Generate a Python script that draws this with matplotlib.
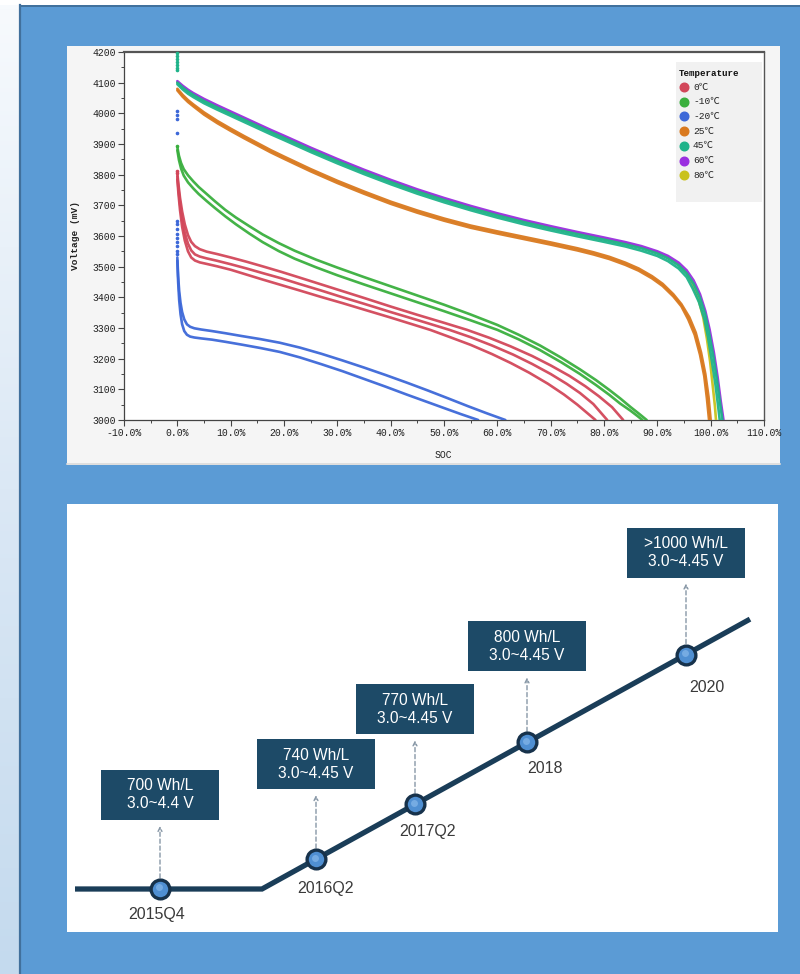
import numpy as np
import matplotlib
matplotlib.use("Agg")
import matplotlib.pyplot as plt
from matplotlib.patches import Rectangle
from matplotlib.colors import LinearSegmentedColormap
from matplotlib.ticker import MultipleLocator, FuncFormatter

# ---------------- discharge curves: SOC (%) vs voltage (mV) ----------------
# 0 C (three cells)
red_a_soc = [0, 0.2, 0.5, 0.9, 1.4, 2, 2.6, 3.3, 4.2, 5.5, 7.5, 10, 13, 16, 19.5, 23, 27, 31, 35, 40,
             45, 50, 54.3, 58.5, 62.5, 66.5, 70, 73.5, 76.5, 79, 81.5, 83.6]
red_a_v = [3805, 3770, 3725, 3680, 3638, 3603, 3581, 3567, 3557, 3549, 3541, 3530, 3516, 3501, 3483, 3464, 3442, 3420, 3398, 3370,
           3343, 3317, 3294, 3268, 3240, 3209, 3178, 3144, 3110, 3078, 3042, 3000]
red_b_soc = [0, 0.2, 0.5, 0.9, 1.4, 2, 2.6, 3.3, 4.2, 5.5, 7.5, 10, 13, 16, 19.5, 23, 27, 31, 35, 40,
             45, 51, 55, 59, 63, 66.5, 70, 73, 75.5, 78, 80.6]
red_b_v = [3795, 3755, 3705, 3655, 3610, 3575, 3553, 3540, 3533, 3527, 3519, 3508, 3494, 3479, 3462, 3443, 3422, 3400, 3379, 3352,
           3326, 3294, 3270, 3243, 3213, 3183, 3150, 3118, 3088, 3052, 3000]
red_c_soc = [0, 0.2, 0.5, 0.9, 1.4, 2, 2.6, 3.3, 4.2, 5.5, 7.5, 10, 13, 16, 19.5, 23, 27, 31, 35, 40,
             47.4, 51, 55, 59, 62.5, 66, 69.5, 72.5, 75, 78.4]
red_c_v = [3785, 3740, 3685, 3630, 3585, 3550, 3530, 3520, 3514, 3509, 3501, 3490, 3474, 3458, 3440, 3422, 3401, 3381, 3360, 3334,
           3294, 3271, 3245, 3215, 3186, 3154, 3118, 3083, 3050, 3000]

# -10 C (two cells)
green_a_soc = [0, 0.3, 0.7, 1.2, 2, 3, 4, 5.5, 7, 9, 11, 13.5, 16, 19, 22, 26, 30, 35, 40, 45,
               50, 55, 60, 64, 68, 72, 75.5, 78.5, 81, 83, 85, 86.6, 88]
green_a_v = [3890, 3862, 3838, 3818, 3798, 3778, 3760, 3737, 3714, 3685, 3660, 3632, 3605, 3577, 3552, 3523, 3497, 3466, 3436, 3406,
             3376, 3344, 3310, 3278, 3243, 3203, 3165, 3130, 3098, 3071, 3042, 3020, 3000]
green_b_soc = [0, 0.3, 0.7, 1.2, 2, 3, 4, 5.5, 7, 9, 11, 13.5, 16, 19, 22, 26, 30, 35, 40, 45,
               50, 55, 60, 64, 68, 72, 75.5, 78.5, 81, 83, 85, 86.2, 87.2]
green_b_v = [3880, 3848, 3820, 3797, 3775, 3755, 3737, 3714, 3692, 3664, 3638, 3608, 3580, 3551, 3526, 3498, 3472, 3442, 3413, 3384,
             3355, 3325, 3294, 3263, 3228, 3188, 3150, 3114, 3082, 3054, 3030, 3014, 3000]

# -20 C (two cells)
blue_a_soc = [0, 0.15, 0.35, 0.6, 0.9, 1.3, 1.8, 2.4, 3.2, 4.5, 6.5, 9, 12, 15.5, 19.2, 23, 27, 31, 35, 39,
              43, 47, 51, 54.5, 58, 61.5]
blue_a_v = [3530, 3470, 3420, 3382, 3352, 3328, 3312, 3304, 3299, 3295, 3290, 3283, 3274, 3264, 3252, 3236, 3216, 3194, 3171, 3147,
            3122, 3096, 3069, 3045, 3022, 3000]
blue_b_soc = [0, 0.15, 0.35, 0.6, 0.9, 1.3, 1.8, 2.4, 3.2, 4.5, 6.5, 9, 12, 15.5, 19.2, 23, 27, 31, 35, 39,
              43, 46.5, 50, 53.2, 56.4]
blue_b_v = [3520, 3450, 3390, 3345, 3312, 3290, 3278, 3272, 3269, 3266, 3262, 3255, 3246, 3235, 3222, 3204, 3182, 3159, 3134, 3109,
            3083, 3061, 3039, 3019, 3000]

# 25 C (two cells)
orange_a_soc = [0, 1, 2, 3, 5, 7.5, 10, 12.5, 15, 17.5, 20, 25, 30, 35, 40, 45, 50, 55, 60, 65,
                70, 75, 78, 81, 84, 86.5, 89, 91, 93, 94.5, 96, 97.2, 98.2, 99, 99.6, 100.0]
orange_a_v = [4080, 4060, 4043, 4029, 4003, 3975, 3950, 3926, 3903, 3880, 3859, 3818, 3780, 3745, 3712, 3683, 3657, 3634, 3615, 3597,
              3579, 3560, 3547, 3532, 3513, 3494, 3469, 3444, 3410, 3378, 3335, 3285, 3220, 3150, 3075, 3000]
orange_b_soc = [0, 1, 2, 3, 5, 7.5, 10, 12.5, 15, 17.5, 20, 25, 30, 35, 40, 45, 50, 55, 60, 65,
                70, 75, 78, 81, 84, 86.5, 89, 91, 93, 94.5, 95.8, 97.0, 98.0, 98.8, 99.3, 99.7]
orange_b_v = [4075, 4054, 4037, 4023, 3996, 3968, 3943, 3919, 3896, 3873, 3852, 3811, 3773, 3738, 3705, 3676, 3650, 3627, 3608, 3590,
              3572, 3553, 3540, 3525, 3506, 3487, 3462, 3437, 3403, 3371, 3328, 3278, 3213, 3143, 3070, 3000]

# 45 C (two cells)
teal_a_soc = [0, 1, 2, 3, 5, 7.5, 10, 12.5, 15, 17.5, 20, 25, 30, 35, 40, 45, 50, 55, 60, 65,
              70, 75, 80, 84, 87, 90, 92, 94, 95.5, 96.8, 98, 99, 99.7, 100.5, 101.2, 101.8, 102.2]
teal_a_v = [4100, 4084, 4071, 4060, 4040, 4019, 3999, 3979, 3959, 3939, 3920, 3881, 3844, 3809, 3776, 3745, 3717, 3691, 3667, 3645,
            3625, 3606, 3588, 3573, 3560, 3543, 3527, 3504, 3478, 3444, 3398, 3343, 3283, 3208, 3128, 3050, 3000]
teal_b_soc = [0, 1, 2, 3, 5, 7.5, 10, 12.5, 15, 17.5, 20, 25, 30, 35, 40, 45, 50, 55, 60, 65,
              70, 75, 80, 84, 87, 90, 92, 94, 95.5, 96.6, 97.8, 98.8, 99.5, 100.2, 100.9, 101.4, 101.7]
teal_b_v = [4095, 4078, 4064, 4053, 4033, 4012, 3992, 3972, 3952, 3932, 3913, 3874, 3837, 3802, 3769, 3738, 3710, 3684, 3660, 3638,
            3618, 3599, 3581, 3566, 3552, 3535, 3518, 3494, 3466, 3430, 3385, 3330, 3270, 3195, 3115, 3045, 3000]

# 60 C
purple_soc = [0, 1, 2, 3, 5, 7.5, 10, 12.5, 15, 17.5, 20, 25, 30, 35, 40, 45, 50, 55, 60, 65,
              70, 75, 80, 84, 87, 90, 92, 94, 95.5, 96.8, 98, 99, 99.8, 100.6, 101.3, 101.9, 102.4]
purple_v = [4105, 4090, 4077, 4066, 4047, 4026, 4006, 3986, 3966, 3946, 3927, 3888, 3851, 3816, 3783, 3752, 3724, 3698, 3674, 3652,
            3632, 3613, 3595, 3580, 3567, 3550, 3535, 3513, 3488, 3455, 3410, 3355, 3295, 3220, 3140, 3060, 3000]

# 80 C
yellow_soc = [0, 1, 2, 3, 5, 7.5, 10, 12.5, 15, 17.5, 20, 25, 30, 35, 40, 45, 50, 55, 60, 65,
              70, 75, 80, 84, 87, 90, 92, 94, 95.5, 96.6, 97.7, 98.6, 99.3, 99.9, 100.4, 100.8, 101.0]
yellow_v = [4101, 4086, 4073, 4062, 4043, 4022, 4002, 3982, 3962, 3942, 3923, 3884, 3847, 3812, 3779, 3748, 3720, 3694, 3670, 3648,
            3628, 3609, 3591, 3576, 3563, 3546, 3530, 3507, 3480, 3445, 3395, 3335, 3265, 3190, 3110, 3045, 3000]

# open-circuit readings logged at SOC 0 before discharge starts
rest_teal_v = [4198, 4188, 4178, 4168, 4158, 4148, 4140]
rest_blue_hi_v = [4008, 3995, 3982, 3935]
rest_blue_lo_v = [3650, 3638, 3622, 3608, 3594, 3580, 3566, 3552, 3540]
rest_red_v = [3812, 3804]
rest_green_v = [3895]

temperatures = ["0℃", "-10℃", "-20℃", "25℃", "45℃", "60℃", "80℃"]
temp_colors = ["#d2475a", "#3aaf3e", "#3d68d8", "#d9791e", "#1fb38a", "#9a2fe0", "#c9c21c"]

# ---------------- energy-density roadmap ----------------
milestones = ["2015Q4", "2016Q2", "2017Q2", "2018", "2020"]
density_labels = ["700 Wh/L", "740 Wh/L", "770 Wh/L", "800 Wh/L", ">1000 Wh/L"]
voltage_windows = ["3.0~4.4 V", "3.0~4.45 V", "3.0~4.45 V", "3.0~4.45 V", "3.0~4.45 V"]

# ---------------- figure ----------------
W, H = 800, 974
fig = plt.figure(figsize=(W / 100, H / 100), dpi=100)
fig.patch.set_facecolor("#5b9bd5")

# page background drawn in pixel units
bg = fig.add_axes([0, 0, 1, 1], zorder=0)
bg.axis("off")
bg.add_patch(Rectangle((0, 0), W, 5, color="white", lw=0))
strip = LinearSegmentedColormap.from_list("strip", ["#f7fafd", "#dbe8f5", "#c4daee"])
bg.imshow(np.linspace(0, 1, 256)[:, None], extent=[0, 19, H, 5], aspect="auto",
          cmap=strip, zorder=1)
bg.add_patch(Rectangle((0, 0), 19, 5, color="white", lw=0, zorder=1))
bg.plot([20, 20], [5, H], color="#41709c", lw=1.6, zorder=2)
bg.plot([20, W], [5.5, 5.5], color="#41709c", lw=1.4, zorder=2)
# chart panel and roadmap panel
bg.add_patch(Rectangle((67, 46), 713, 419, color="#f5f5f5", lw=0, zorder=2))
bg.plot([67, 780], [464, 464], color="#dadada", lw=1.2, zorder=3)
bg.add_patch(Rectangle((67, 504), 711, 428, color="white", lw=0, zorder=2))
bg.set_xlim(0, W)
bg.set_ylim(H, 0)

# ---------------- discharge chart ----------------
AX_L, AX_R, AX_T, AX_B = 124, 764, 52, 420
ax = fig.add_axes([AX_L / W, 1 - AX_B / H, (AX_R - AX_L) / W, (AX_B - AX_T) / H], zorder=2)
ax.set_facecolor("white")
ax.set_xlim(-10, 110)
ax.set_ylim(3000, 4200)

curves = [
    (yellow_soc, yellow_v, 6),
    (purple_soc, purple_v, 5),
    (teal_a_soc, teal_a_v, 4),
    (teal_b_soc, teal_b_v, 4),
    (orange_a_soc, orange_a_v, 3),
    (orange_b_soc, orange_b_v, 3),
    (green_a_soc, green_a_v, 1),
    (green_b_soc, green_b_v, 1),
    (red_a_soc, red_a_v, 0),
    (red_b_soc, red_b_v, 0),
    (red_c_soc, red_c_v, 0),
    (blue_a_soc, blue_a_v, 2),
    (blue_b_soc, blue_b_v, 2),
]
for soc, v, ci in curves:
    ax.plot(soc, v, color=temp_colors[ci], lw=1.9, alpha=0.95,
            solid_joinstyle="round", solid_capstyle="round", zorder=3)

for vals, ci in [(rest_teal_v, 4), (rest_blue_hi_v, 2), (rest_blue_lo_v, 2),
                 (rest_red_v, 0), (rest_green_v, 1)]:
    ax.plot([0] * len(vals), vals, ls="none", marker="o", ms=1.6,
            color=temp_colors[ci], zorder=3, clip_on=False)

mono = "Liberation Mono"
ax.xaxis.set_major_locator(MultipleLocator(10))
ax.xaxis.set_minor_locator(MultipleLocator(5))
ax.yaxis.set_major_locator(MultipleLocator(100))
ax.yaxis.set_minor_locator(MultipleLocator(50))
ax.xaxis.set_major_formatter(FuncFormatter(lambda v, p: f"{v:.1f}%"))
ax.yaxis.set_major_formatter(FuncFormatter(lambda v, p: f"{v:.0f}"))
ax.tick_params(which="major", direction="out", length=4, width=0.8, color="#444444",
               labelsize=7, labelcolor="#222222", pad=2)
ax.tick_params(which="minor", direction="out", length=2.5, width=0.7, color="#444444")
ax.tick_params(top=False, right=False, which="both")
for lbl in ax.get_xticklabels() + ax.get_yticklabels():
    lbl.set_fontfamily(mono)
for side in ["left", "bottom"]:
    ax.spines[side].set_color("#444444")
    ax.spines[side].set_linewidth(0.9)
ax.spines["top"].set_color("#555555")
ax.spines["top"].set_linewidth(1.6)
ax.spines["right"].set_color("#555555")
ax.spines["right"].set_linewidth(1.0)


def axfrac(px, py):
    return (px - AX_L) / (AX_R - AX_L), (AX_B - py) / (AX_B - AX_T)


ax.text(*axfrac(76, 236), "Voltage (mV)", transform=ax.transAxes, rotation=90,
        ha="center", va="center", fontsize=6.8, fontfamily=mono, fontweight="bold",
        color="#222222")
ax.text(*axfrac(443, 455), "SOC", transform=ax.transAxes, ha="center", va="center",
        fontsize=7, fontfamily=mono, color="#222222")

# legend panel
lx0, ly0 = axfrac(676, 202)
lx1, ly1 = axfrac(762, 62)
ax.add_patch(Rectangle((lx0, ly0), lx1 - lx0, ly1 - ly0, transform=ax.transAxes,
                       color="#f1f1f1", lw=0, zorder=4))
ax.text(*axfrac(679, 73), "Temperature", transform=ax.transAxes, ha="left",
        va="center", fontsize=6.6, fontfamily=mono, fontweight="bold",
        color="#111111", zorder=5)
for i, (name, col) in enumerate(zip(temperatures, temp_colors)):
    py = 87 + i * 14.7
    mx, my = axfrac(684, py)
    ax.plot([mx], [my], marker="o", ms=6.2, color=col, transform=ax.transAxes,
            clip_on=False, zorder=5)
    ax.text(*axfrac(693, py), name, transform=ax.transAxes, ha="left", va="center",
            fontsize=6.8, fontfamily=[mono, "Noto Sans CJK SC", "DejaVu Sans"],
            color="#222222", zorder=5)

# ---------------- roadmap ----------------
rm = fig.add_axes([67 / W, 1 - 932 / H, 711 / W, 428 / H], zorder=2)
rm.set_xlim(67, 778)
rm.set_ylim(932, 504)
rm.axis("off")

# path layout: flat lead-in, then a straight rising segment
path_x = [75, 262, 750]
base_y = 889
rise = 0.553


def path_y(x):
    x = np.asarray(x, dtype=float)
    return np.where(x <= path_x[1], base_y, base_y - rise * (x - path_x[1]))


node_x = np.array([160, 316, 415, 527, 686])
node_y = path_y(node_x)
box_dy = [-94, -95, -95, -96, -102]
label_dxy = [(-3, 26), (9, 29), (12, 27), (18, 26), (21, 33)]
box_w, box_h = 118, 50

rm.plot(path_x, path_y(path_x), color="#1a3d58", lw=3.8, solid_capstyle="butt",
        solid_joinstyle="miter", zorder=2)

for i, name in enumerate(milestones):
    nx, ny = node_x[i], float(node_y[i])
    bx, by = nx, ny + box_dy[i]
    rm.add_patch(Rectangle((bx - box_w / 2, by - box_h / 2), box_w, box_h,
                           color="#1d4a67", lw=0, zorder=3))
    rm.text(bx, by, f"{density_labels[i]}\n{voltage_windows[i]}", ha="center",
            va="center", color="white", fontsize=11.2, fontfamily="Liberation Sans",
            linespacing=1.25, zorder=4)
    rm.annotate("", xy=(nx, by + box_h / 2 + 6), xytext=(nx, ny - 11),
                arrowprops=dict(arrowstyle="->", color="#8797a6", lw=1.0,
                                linestyle=(0, (3, 2)), shrinkA=0, shrinkB=0,
                                mutation_scale=7), zorder=2)
    rm.plot([nx], [ny], marker="o", ms=13.5, mfc="#4f8fd2", mec="#17324b", mew=2.4,
            zorder=5)
    rm.plot([nx - 1.5], [ny - 1.5], marker="o", ms=5, mfc="#86b8ea", mec="none",
            alpha=0.7, zorder=6)
    dx, dy = label_dxy[i]
    rm.text(nx + dx, ny + dy, name, ha="center", va="center", fontsize=11.5,
            fontfamily="Liberation Sans", color="#3a3a3a", zorder=4)

fig.savefig("out.png", dpi=100, facecolor=fig.get_facecolor())
